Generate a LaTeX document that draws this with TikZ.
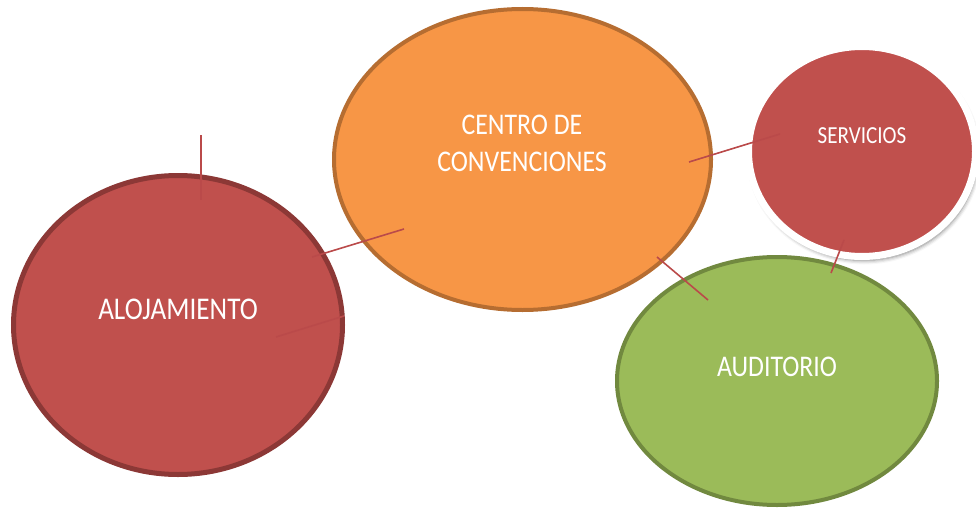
\documentclass[tikz,border=0pt]{standalone}
\usepackage{fontspec}
\setmainfont[FakeStretch=0.86]{Carlito}
\usetikzlibrary{shapes.geometric,shadows.blur}
\definecolor{redfill}{HTML}{C0504D}
\definecolor{redline}{HTML}{8C3836}
\definecolor{linkred}{HTML}{BA4A4A}
\definecolor{orfill}{HTML}{F79646}
\definecolor{orline}{HTML}{B66D31}
\definecolor{grfill}{HTML}{9BBB59}
\definecolor{grline}{HTML}{71893F}
\tikzset{
  bubble/.style={ellipse, inner sep=0pt, outer sep=0pt, text=white, align=center},
  link/.style={draw=linkred, line width=1.6pt}
}
\begin{document}
\begin{tikzpicture}[x=1pt,y=-1pt]
\useasboundingbox (0,0) rectangle (976,508);
% ellipses
\node[bubble, fill=redfill, draw=redline, line width=5pt, minimum width=329pt, minimum height=299pt] (aloj) at (178,325) {};
\node[font=\fontsize{31.6}{36}\selectfont, text=white] (alojt) at (178,309) {ALOJAMIENTO};
\node[bubble, fill=orfill, draw=orline, line width=4pt, minimum width=377pt, minimum height=301pt] (centro) at (522.5,159.5) {};
\node[font=\fontsize{30}{37}\selectfont, text=white, align=center] (centrot) at (522,143.5) {CENTRO DE\\CONVENCIONES};
\node[bubble, fill=grfill, draw=grline, line width=4pt, minimum width=320pt, minimum height=248pt] (audi) at (777,381) {};
\node[font=\fontsize{30}{36}\selectfont, text=white] (audit) at (777,367) {AUDITORIO};
\node[bubble, fill=redfill, draw=white, line width=7pt, minimum width=227pt, minimum height=210pt,
  blur shadow={shadow xshift=2pt, shadow yshift=-4pt, shadow blur radius=4pt, shadow opacity=50}] (serv) at (862,151.5) {};
\node[font=\fontsize{24.5}{30}\selectfont, text=white] (servt) at (862,136) {SERVICIOS};
% connector lines
\coordinate (l1a) at (201,135); \coordinate (l1b) at (201,200);
\coordinate (l2a) at (312,257); \coordinate (l2b) at (404,229);
\coordinate (l3a) at (276,337); \coordinate (l3b) at (344,316);
\coordinate (l4a) at (689,162); \coordinate (l4b) at (780,134);
\coordinate (l5a) at (657,257); \coordinate (l5b) at (708,300);
\coordinate (l6a) at (844,240); \coordinate (l6b) at (831,273);
\draw[link] (l1a) -- (l1b);
\draw[link] (l2a) -- (l2b);
\draw[link] (l3a) -- (l3b);
\draw[link] (l4a) -- (l4b);
\draw[link] (l5a) -- (l5b);
\draw[link] (l6a) -- (l6b);
\end{tikzpicture}
\end{document}
